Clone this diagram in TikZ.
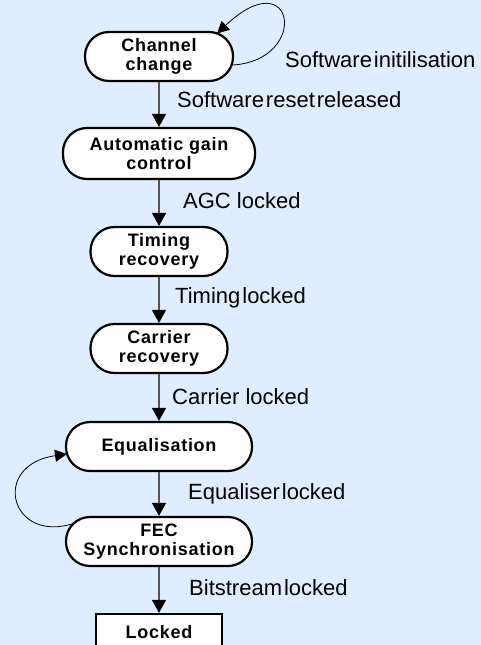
\documentclass[tikz,border=0pt]{standalone}
\usepackage{fontspec}
\setmainfont{Liberation Sans}
\usetikzlibrary{arrows.meta,positioning,calc}
\definecolor{bgblue}{RGB}{222,237,255}
\definecolor{flowgray}{RGB}{85,85,85}
\newcommand{\tsp}{\hspace{2pt}}

\begin{document}
\begin{tikzpicture}[
        x=1pt, y=-1pt,
        stage/.style={rectangle, draw, line width=2.2pt, fill=white, rounded corners=24pt,
            minimum height=49pt, inner sep=0pt, align=center,
            font=\fontsize{18}{19.5}\selectfont\bfseries\addfontfeatures{LetterSpace=4}},
        final/.style={stage, rounded corners=0pt, minimum height=36pt},
        lbl/.style={anchor=west, inner sep=0pt, font=\fontsize{22}{24}\selectfont},
        arrow/.style={-{Triangle[width=14pt,length=13pt,black]}, flowgray, line width=1.6pt},
        loopback/.style={-{Triangle[width=12pt,length=12pt]}, black, line width=0.8pt}
    ]
        % Background
        \fill[bgblue] (0,0) rectangle (481,645);
        \useasboundingbox (0,0) rectangle (481,645);

        % States (top to bottom)
        \node[stage, minimum width=148pt] (chan) at (159,56.5) {Channel\\change};
        \node[stage, minimum width=192pt, minimum height=51pt] (agc) at (159,153.5) {Automatic gain\\control};
        \node[stage, minimum width=137pt] (timing) at (159,251.5) {Timing\\recovery};
        \node[stage, minimum width=137pt] (carrier) at (159,348.5) {Carrier\\recovery};
        \node[stage, minimum width=186pt] (equal) at (159,446.5) {Equalisation};
        \node[stage, minimum width=186pt] (fec) at (159,541.5) {FEC\\Synchronisation};
        \node[final, minimum width=126pt] (locked) at (159,632) {Locked};

        % Transitions
        \draw[arrow] (chan) -- (agc);
        \draw[arrow] (agc) -- (timing);
        \draw[arrow] (timing) -- (carrier);
        \draw[arrow] (carrier) -- (equal);
        \draw[arrow] (equal) -- (fec);
        \draw[arrow] (fec) -- (locked);

        % Loops
        \coordinate (chanout) at (233,65);
        \coordinate (chanin) at (217,33.5);
        \draw[loopback] (chanout) .. controls (310,60) and (295,-40) .. (chanin);
        \coordinate (fecout) at (75,523);
        \coordinate (equalin) at (67,454);
        \draw[loopback] (fecout) .. controls (10,545) and (-10,465) .. (equalin);

        % Conditions
        \node[lbl] (swinit) at (285,60) {Software\tsp initilisation};
        \node[lbl] (swreset) at (177,100) {Software\tsp reset\tsp released};
        \node[lbl] (agclk) at (183,201) {AGC locked};
        \node[lbl] (timlk) at (175,298) {Timing\tsp locked};
        \node[lbl] (carlk) at (172,397) {Carrier locked};
        \node[lbl] (eqlk) at (188,494) {Equaliser\tsp locked};
        \node[lbl] (bitlk) at (189,588) {Bitstream\tsp locked};
    \end{tikzpicture}
\end{document}
